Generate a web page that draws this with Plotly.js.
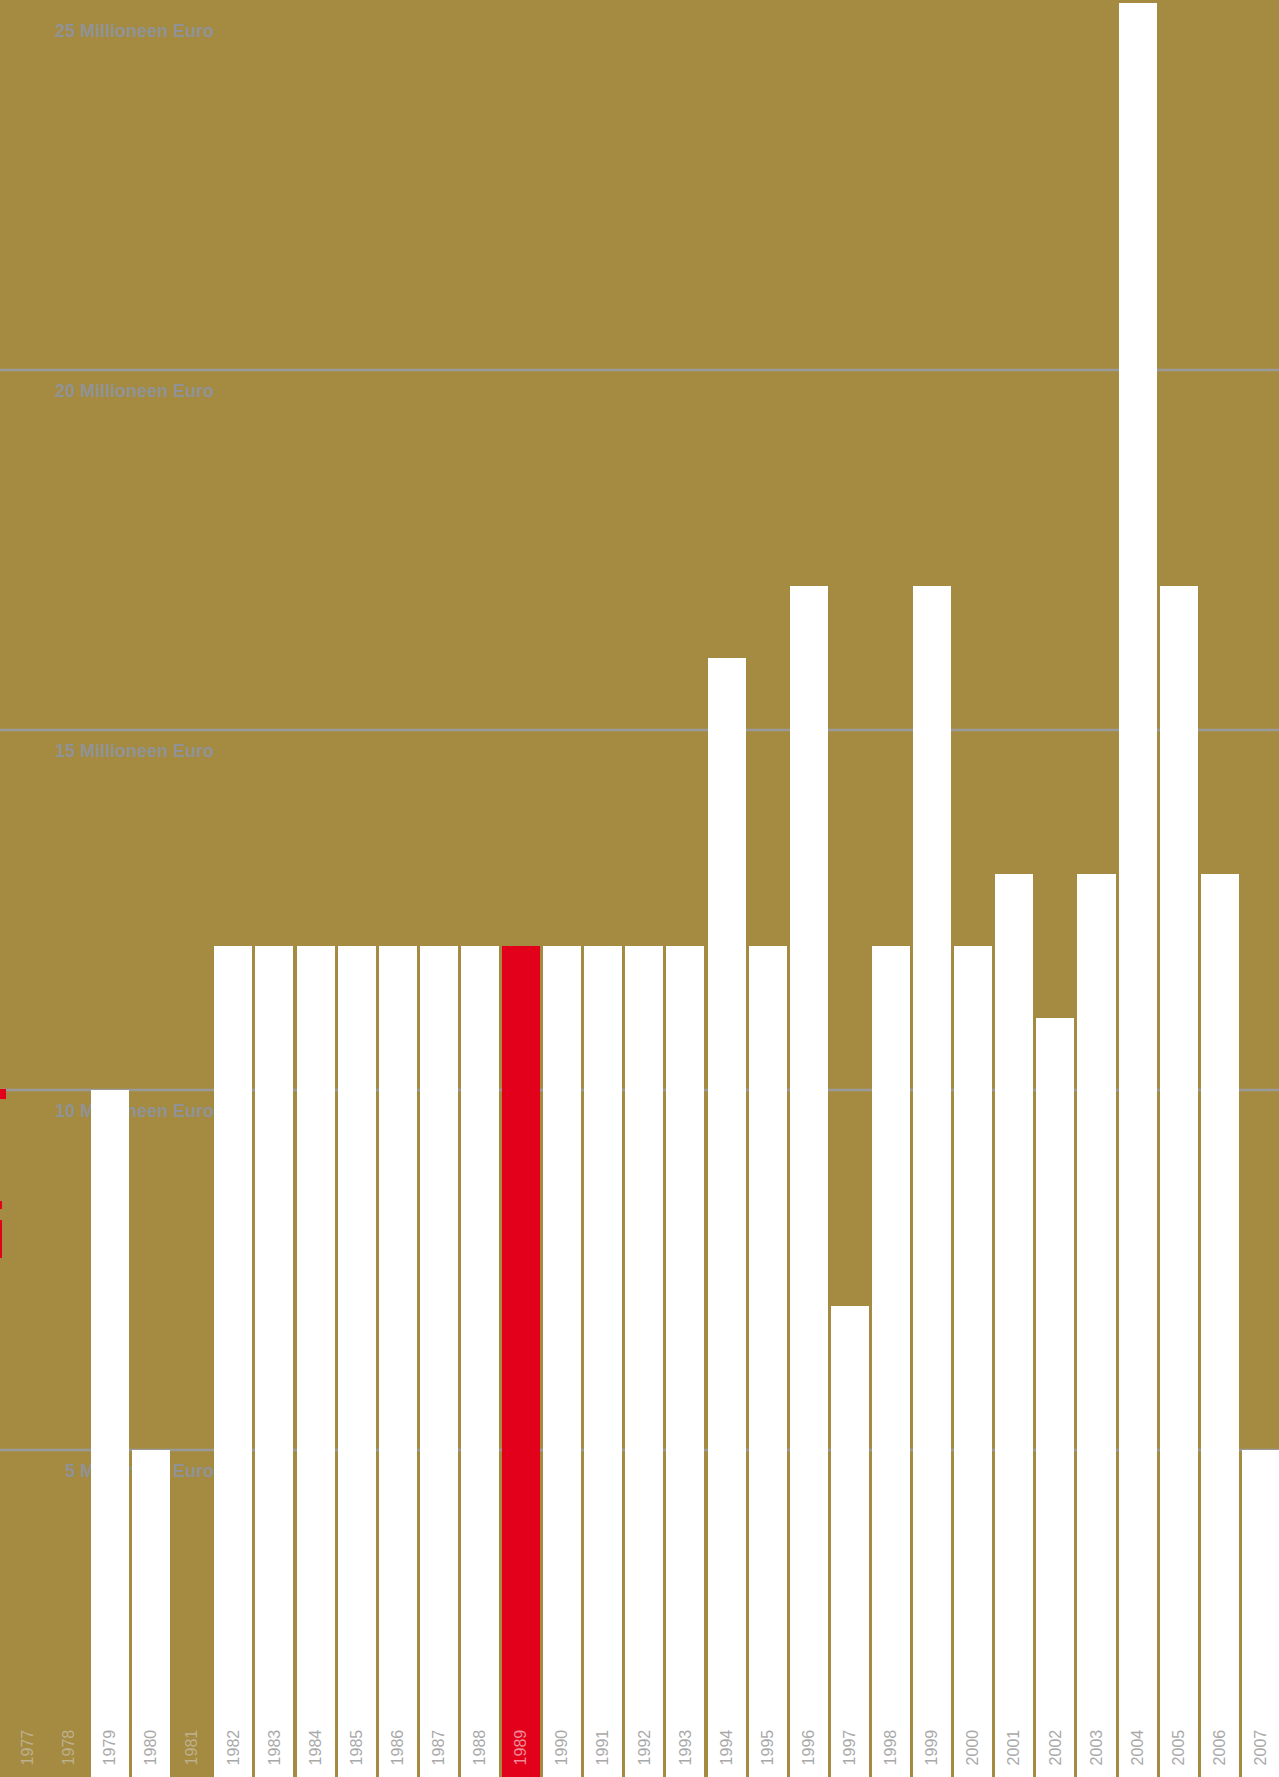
<!DOCTYPE html>
<html>
<head>
<meta charset="utf-8">
<script src="https://cdn.plot.ly/plotly-3.0.1.min.js"></script>
<style>html,body{margin:0;padding:0;background:#a58a41;}#chart{width:1279px;height:1777px;}</style>
</head>
<body>
<div id="chart"></div>
<script>
const years = [1977,1978,1979,1980,1981,1982,1983,1984,1985,1986,1987,1988,1989,1990,1991,1992,1993,1994,1995,1996,1997,1998,1999,2000,2001,2002,2003,2004,2005,2006,2007];
const values = [null,null,10,5,null,12,12,12,12,12,12,12,12,12,12,12,12,16,12,17,7,12,17,12,13,11,13,25.1,17,13,5];
const highlightYear = 1989;
const yTickVals = [5,10,15,20,25];
const yTickText = ["5 Millioneen Euro","10 Millioneen Euro","15 Millioneen Euro","20 Millioneen Euro","25 Millioneen Euro"];
const gridVals = [5,10,15,20];

const W = 1279, H = 1777;
const GOLD = '#a58a41', RED = '#e2001a', WHITE = '#ffffff';

const barColors = years.map(y => y === highlightYear ? RED : WHITE);
const tickText = years.map((y, i) => {
  let c = '#a9a9a9';
  if (values[i] === null) c = '#bdb18d';
  else if (y === highlightYear) c = '#ef8d9b';
  return '<span style="color:' + c + '">' + String(y) + '</span>';
});

const trace = {
  type: 'bar',
  x: years,
  y: values,
  width: 0.925,
  marker: {color: barColors, line: {width: 0}},
  hoverinfo: 'x+y'
};

const shapes = gridVals.map(v => ({
  type: 'line', xref: 'paper', yref: 'y', x0: 0, x1: 1, y0: v, y1: v,
  line: {color: '#9a9a9a', width: 2.5}, layer: 'below'
}));
// small red marks at the left edge
const px = (x) => x / W, py = (y) => 1 - y / H;
[[0,6,1089,1099],[0,2,1201,1209],[0,2,1220,1258]].forEach(r => {
  shapes.push({type:'rect', xref:'paper', yref:'paper', x0:px(r[0]), x1:px(r[1]), y0:py(r[3]), y1:py(r[2]),
    fillcolor: RED, line:{width:0}, layer:'above'});
});

const layout = {
  width: W, height: H,
  margin: {l:0, r:0, t:0, b:0, pad:0},
  paper_bgcolor: GOLD, plot_bgcolor: GOLD,
  showlegend: false,
  bargap: 0,
  xaxis: {
    range: [1976.324, 2007.44],
    tickmode: 'array', tickvals: years, ticktext: tickText,
    tickangle: -90, ticks: '', showgrid: false, zeroline: false, showline: false,
    ticklabelposition: 'inside', ticklabelstandoff: 3,
    tickfont: {family: 'Liberation Sans, Arial, sans-serif', size: 16, color: '#a9a9a9'},
    fixedrange: true
  },
  yaxis: {
    range: [0.458, 25.139],
    anchor: 'free', position: 214 / W,
    tickmode: 'array', tickvals: yTickVals, ticktext: yTickText,
    ticks: '', showgrid: false, zeroline: false, showline: false,
    ticklabelposition: 'outside', ticklabelshift: 21,
    layer: 'below traces',
    tickfont: {family: 'Liberation Sans, Arial, sans-serif', size: 18, color: '#8f9396', weight: 'bold'},
    fixedrange: true
  },
  shapes: shapes
};

Plotly.newPlot('chart', [trace], layout, {displayModeBar: false, staticPlot: true});
</script>
</body>
</html>
